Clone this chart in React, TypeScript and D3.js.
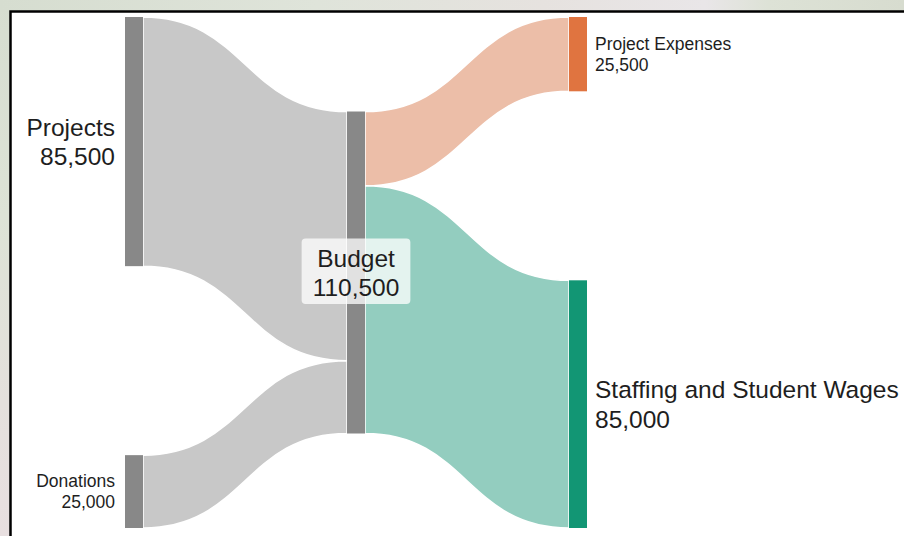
import { useEffect, useRef } from "react";
import * as d3 from "d3";

// nodes
const nodeNames = ["Projects", "Donations", "Budget", "Project Expenses", "Staffing and Student Wages"];
const nodeColumns = [0, 0, 1, 2, 2];
const nodeColors = ["#888888", "#888888", "#888888", "#e07440", "#129674"];
const nodeLinkColors = ["#c8c8c8", "#c8c8c8", "#c8c8c8", "#ecbea8", "#93cdbf"];

// links
const linkSources = [0, 1, 2, 2];
const linkTargets = [2, 2, 3, 4];
const linkValues = [85500, 25000, 25500, 85000];

const W = 904;
const H = 536;

export default function App() {
  const ref = useRef<SVGSVGElement>(null);

  useEffect(() => {
    if (!ref.current) return;
    const svg = d3.select(ref.current);
    svg.selectAll("*").remove();

    // backdrop behind the panel
    const defs = svg.append("defs");
    const gTop = defs.append("linearGradient").attr("id", "bgTop").attr("x1", 0).attr("x2", 1).attr("y1", 0).attr("y2", 0);
    [["0", "#d6ddd0"], ["0.35", "#dfe4da"], ["0.6", "#e6e2df"], ["0.78", "#e9e6e8"], ["0.85", "#dde2d6"], ["1", "#d7dccf"]]
      .forEach(([o, c]) => gTop.append("stop").attr("offset", o).attr("stop-color", c));
    const gLeft = defs.append("linearGradient").attr("id", "bgLeft").attr("x1", 0).attr("x2", 0).attr("y1", 0).attr("y2", 1);
    [["0", "#d6ddd0"], ["0.4", "#dde3d6"], ["0.75", "#e4e0dc"], ["1", "#e8dfe0"]]
      .forEach(([o, c]) => gLeft.append("stop").attr("offset", o).attr("stop-color", c));
    svg.append("rect").attr("width", W).attr("height", H).attr("fill", "url(#bgLeft)");
    svg.append("rect").attr("width", W).attr("height", 12).attr("fill", "url(#bgTop)");
    svg.append("rect")
      .attr("x", 10.5).attr("y", 11.5).attr("width", W + 20).attr("height", H + 20)
      .attr("fill", "#ffffff").attr("stroke", "#000000").attr("stroke-width", 2.5);

    // layout
    const nodeWidth = 18;
    const y0 = 17;
    const y1 = 528;
    const nodePadding = 189;
    const x = d3.scalePoint<number>().domain([0, 1, 2]).range([125, 569]);

    const nodes = nodeNames.map((name, i) => {
      const inV = d3.sum(linkValues.filter((_, j) => linkTargets[j] === i));
      const outV = d3.sum(linkValues.filter((_, j) => linkSources[j] === i));
      return { i, name, col: nodeColumns[i], value: Math.max(inV, outV), x0: 0, x1: 0, y0: 0, y1: 0 };
    });

    const cols = d3.groups(nodes, (d) => d.col).map(([, ns]) => ns);
    const ky = d3.min(cols, (ns) => (y1 - y0 - (ns.length - 1) * nodePadding) / d3.sum(ns, (d) => d.value))!;
    const h = d3.scaleLinear().domain([0, 1]).range([0, ky]);

    cols.forEach((ns) => {
      const total = d3.sum(ns, (d) => h(d.value)) + (ns.length - 1) * nodePadding;
      let y = y0 + (y1 - y0 - total) / 2;
      ns.forEach((n) => {
        n.x0 = x(n.col)!;
        n.x1 = n.x0 + nodeWidth;
        n.y0 = y;
        n.y1 = y + h(n.value);
        y = n.y1 + nodePadding;
      });
    });

    const links = linkValues.map((v, j) => ({
      s: nodes[linkSources[j]], t: nodes[linkTargets[j]], value: v, sy0: 0, sy1: 0, ty0: 0, ty1: 0,
    }));
    nodes.forEach((n) => {
      let so = n.y0;
      links.filter((l) => l.s === n).sort((a, b) => a.t.y0 - b.t.y0).forEach((l) => {
        l.sy0 = so; so += h(l.value); l.sy1 = so;
      });
      let to = n.y0;
      links.filter((l) => l.t === n).sort((a, b) => a.s.y0 - b.s.y0).forEach((l) => {
        l.ty0 = to; to += h(l.value); l.ty1 = to;
      });
    });

    const linkPath = (l: any) => {
      const sx = l.s.x1, tx = l.t.x0, mx = (sx + tx) / 2;
      const p = d3.path();
      p.moveTo(sx, l.sy0);
      p.bezierCurveTo(mx, l.sy0, mx, l.ty0, tx, l.ty0);
      p.lineTo(tx, l.ty1);
      p.bezierCurveTo(mx, l.ty1, mx, l.sy1, sx, l.sy1);
      p.closePath();
      return p.toString();
    };

    svg.append("g").selectAll("path")
      .data(links)
      .join("path")
      .attr("d", linkPath)
      .attr("fill", (l) => nodeLinkColors[l.t.i])
      .attr("stroke", "#ffffff")
      .attr("stroke-width", 1.5);

    svg.append("g").selectAll("rect")
      .data(nodes)
      .join("rect")
      .attr("x", (d) => d.x0)
      .attr("y", (d) => d.y0)
      .attr("width", nodeWidth)
      .attr("height", (d) => d.y1 - d.y0)
      .attr("fill", (d) => nodeColors[d.i]);

    // labels
    const fmt = d3.format(",");
    const labels = svg.append("g")
      .attr("font-family", "'Liberation Sans', Arial, sans-serif")
      .attr("fill", "#1e1e1e");

    nodes.forEach((n) => {
      const fs = n.value > 50000 ? 24.5 : 17.5;
      const lh = fs * 1.2;
      const cy = (n.y0 + n.y1) / 2;
      const b1 = cy - lh / 2 + fs * 0.36;
      let tx = (n.x0 + n.x1) / 2;
      let anchor = "middle";
      if (n.col === 0) { tx = n.x0 - 10; anchor = "end"; }
      if (n.col === 2) { tx = n.x1 + 8; anchor = "start"; }

      const g = labels.append("g");
      const bg = g.append("rect");
      const text = g.append("text")
        .attr("font-size", fs)
        .attr("text-anchor", anchor);
      text.append("tspan").attr("x", tx).attr("y", b1).text(n.name);
      text.append("tspan").attr("x", tx).attr("y", b1 + lh).text(fmt(n.value));

      if (n.col === 1) {
        const bb = (text.node() as SVGTextElement).getBBox();
        bg.attr("x", bb.x - 11)
          .attr("y", bb.y - 6)
          .attr("width", bb.width + 22)
          .attr("height", bb.height + 9)
          .attr("rx", 4)
          .attr("fill", "#ffffff")
          .attr("fill-opacity", 0.75);
      } else {
        bg.remove();
      }
    });
  }, []);

  return (
    <div style={{ position: "absolute", left: 0, top: 0 }}>
      <svg ref={ref} width={W} height={H} style={{ display: "block" }} />
    </div>
  );
}
